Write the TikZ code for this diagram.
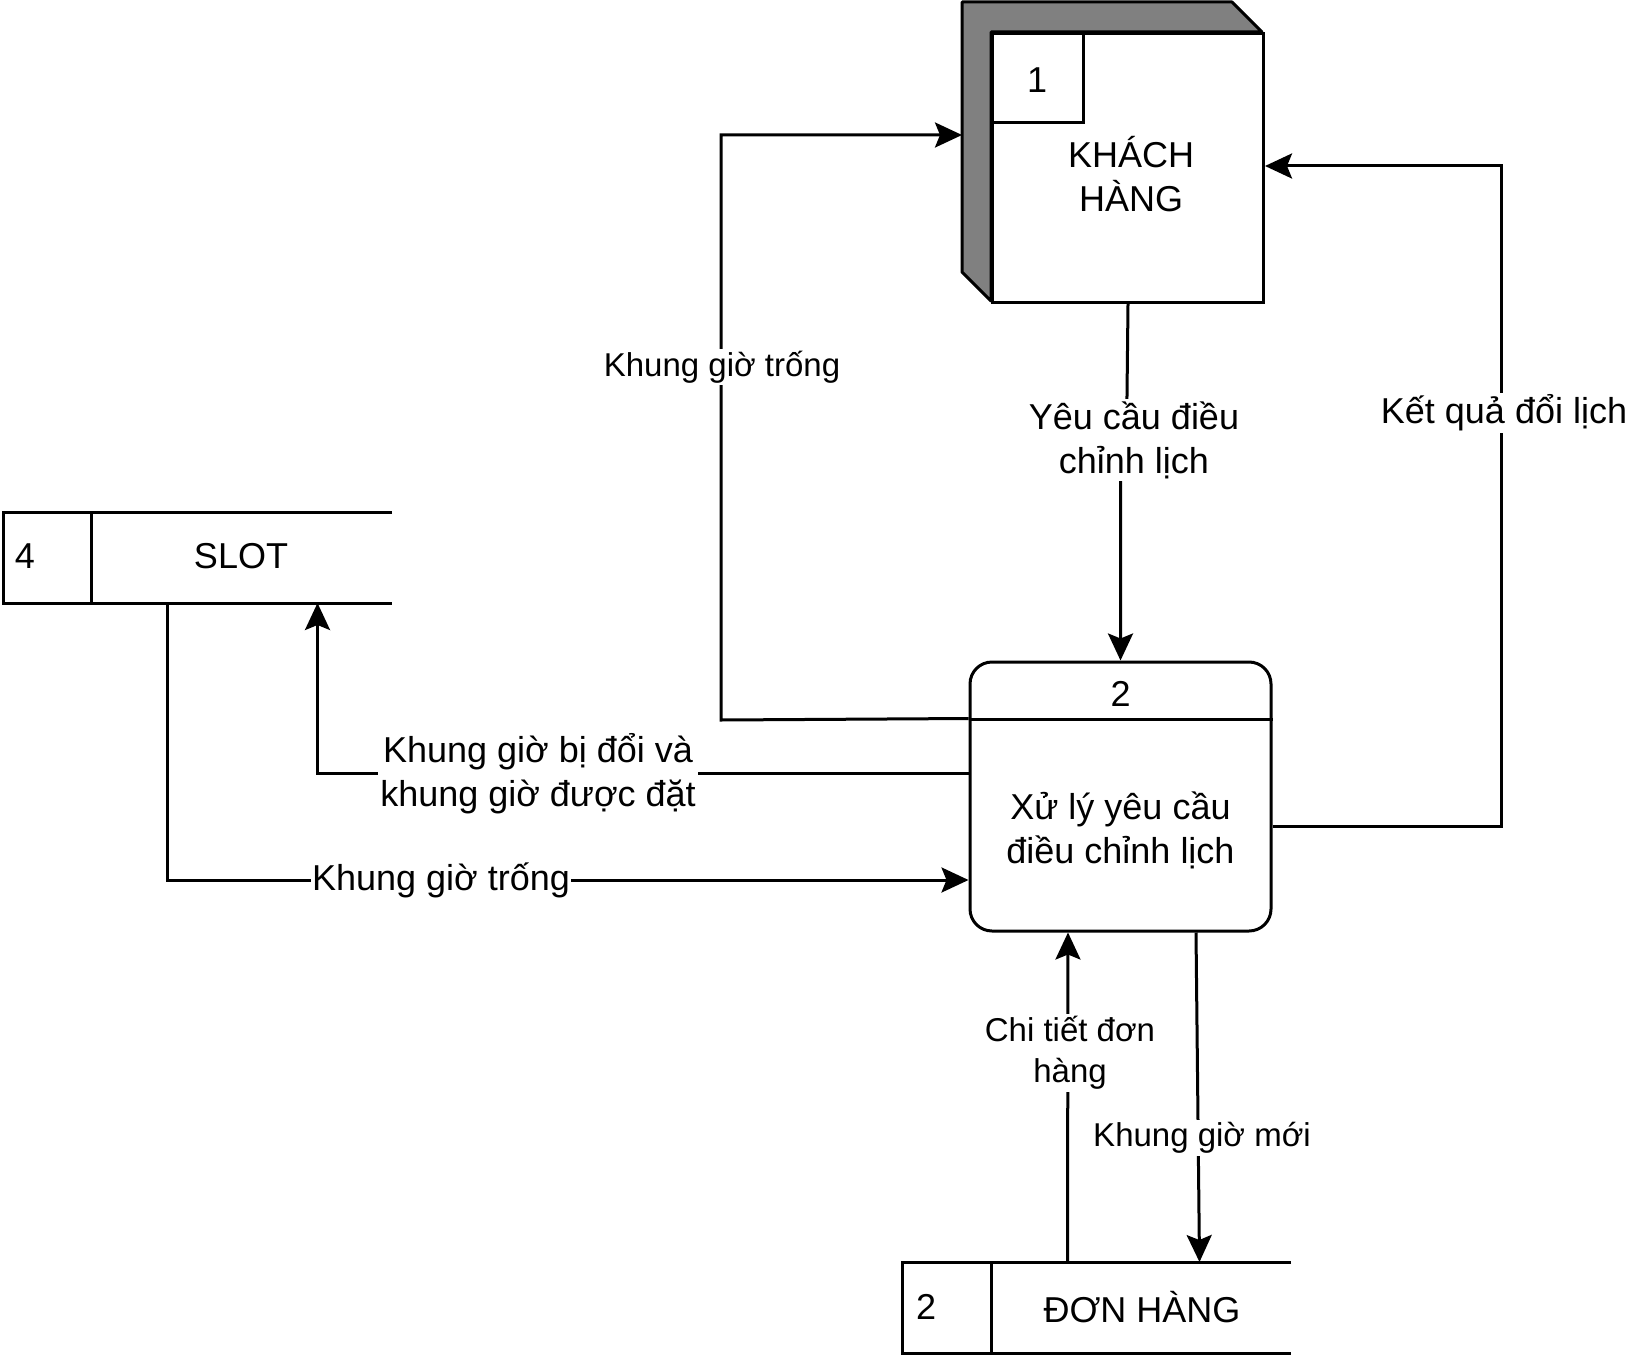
\documentclass[tikz,border=0pt]{standalone}
\usepackage{fontspec}
\setmainfont{Liberation Sans}
\usetikzlibrary{arrows.meta,calc}
\definecolor{sidegray}{HTML}{808080}
\begin{document}
\begin{tikzpicture}[x=1pt,y=-1pt,line width=3pt,
  every node/.style={font=\fontsize{36}{44}\selectfont},
  flow/.style={-{Stealth[length=27pt,width=25pt,inset=5pt]}},
  lbl/.style={fill=white,inner sep=2pt,align=center},
  lbls/.style={lbl,font=\fontsize{33}{41}\selectfont},
  box/.style={minimum width=#1,inner sep=0pt,anchor=north west},
]
\useasboundingbox (0,0) rectangle (1629,1356);

% external entity: customer, with its shaded depth
\filldraw[fill=sidegray,line join=round] (962,2) -- (1232,2) -- (1262,32) -- (991,32) -- (991,301) -- (962,272) -- cycle;
\node[draw,fill=white,box=271pt,minimum height=269pt] (kh) at (991,32) {};
\node[draw,box=91pt,minimum height=89pt] (khn) at (kh.north west) {};
\node (khnum) at (1037,80) {1};
\node[align=center] (khtext) at (1131,174) {KHÁCH\\HÀNG};

% process
\node[draw,fill=white,rounded corners=22pt,minimum width=301pt,minimum height=269pt,inner sep=0pt] (proc) at (1120.5,796.5) {};
\draw ([yshift=-59pt]proc.north west) -- ([yshift=-59pt]proc.north east);
\node (procnum) at (1120.5,694) {2};
\node[align=center] (proctext) at (1120.5,830) {Xử lý yêu cầu\\điều chỉnh lịch};

% data store: SLOT
\node[box=386pt,minimum height=88pt] (slot) at (3,512) {};
\draw (slot.north east) -- (slot.north west) -- (slot.south west) -- (slot.south east);
\draw ([xshift=88pt]slot.north west) -- ([xshift=88pt]slot.south west);
\node (slotnum) at (25,556) {4};
\node (slotname) at (241,556) {SLOT};

% data store: orders
\node[box=386pt,minimum height=88pt] (dh) at (902,1262) {};
\draw (dh.north east) -- (dh.north west) -- (dh.south west) -- (dh.south east);
\draw ([xshift=89pt]dh.north west) -- ([xshift=89pt]dh.south west);
\node (dhnum) at (926,1307) {2};
\node (dhname) at (1142,1307) {ĐƠN HÀNG};

% flows
\coordinate (khL) at (962,135);
\draw[flow] (kh.south) -- (1126.5,440) -- (1120.5,440) -- (proc.north);
\node[lbl] (l1) at (1134,440) {Yêu cầu điều\\chỉnh lịch};

\draw[flow] ([yshift=-58pt]proc.north west) -- (721,720) |- (khL);
\node[lbls] (l2) at (722,367) {Khung giờ trống};

\draw[flow] ([yshift=-29.5pt]proc.east) -- (1501,826) |- ([yshift=-134pt]kh.north east);
\node[lbl] (l3) at (1504,413) {Kết quả đổi lịch};

\draw[flow] ([yshift=23.5pt]proc.west) -| ([xshift=120pt]slot.south);
\node[lbl] (l4) at (538,774) {Khung giờ bị đổi và\\khung giờ được đặt};

\draw[flow] ([xshift=-30pt]slot.south) |- ([yshift=-83.5pt]proc.west);
\node[lbl,inner sep=1pt] (l5) at (441,880) {Khung giờ trống};

\draw[flow] ([xshift=-29pt]dh.north) -- ([xshift=-52.5pt]proc.south);
\node[lbls] (l6) at (1070,1053) {Chi tiết đơn\\hàng};

\draw[flow] ([xshift=75.5pt]proc.south) -- ([xshift=103pt]dh.north);
\node[lbls] (l7) at (1202,1138) {Khung giờ mới};
\end{tikzpicture}
\end{document}
